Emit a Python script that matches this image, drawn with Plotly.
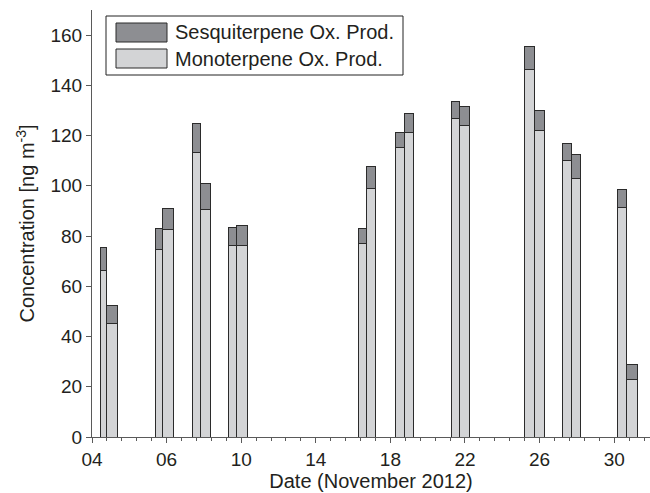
"""Concentrations des produits d'oxydation, barres empilees par echantillon."""
import plotly.graph_objects as go

# echantillons : debut / fin (jours depuis le debut de l'axe)
sample_start = [0.54, 0.96, 4.25, 4.74, 6.71, 7.25, 9.13, 9.66, 17.85, 18.43,
                20.31, 20.93, 24.11, 24.65, 29.01, 29.65, 31.52, 32.13, 35.21, 35.84]
sample_end = [0.96, 1.74, 4.74, 5.44, 7.25, 7.92, 9.66, 10.44, 18.43, 19.03,
              20.93, 21.54, 24.65, 25.28, 29.65, 30.34, 32.13, 32.72, 35.84, 36.55]

mono = [66.2, 45.2, 74.8, 82.5, 113.1, 90.7, 76.3, 76.3, 76.9, 98.8,
        115.2, 121.3, 126.8, 124.2, 146.2, 121.9, 110.0, 102.9, 91.2, 22.8]
sesqui = [9.2, 7.2, 8.2, 8.6, 11.9, 10.2, 7.2, 8.1, 6.2, 8.8,
          6.2, 7.3, 6.8, 7.3, 9.4, 8.1, 6.7, 9.6, 7.2, 6.2]

date_labels = ["04", "06", "10", "14", "18", "22", "26", "30"]
date_pos = [0, 5, 10, 15, 20, 25, 30, 35]

LIGHT = "#d3d4d6"
DARK = "#8d8e92"
EDGE = "#2b2b2b"
AXIS = "#5a5a5a"
FONT = "Liberation Sans, Arial, sans-serif"

# zone de trace en pixels
L, R, T, B = 92, 650, 10, 437

centers = [(s + e) / 2 for s, e in zip(sample_start, sample_end)]
widths = [e - s for s, e in zip(sample_start, sample_end)]

fig = go.Figure()
fig.add_trace(go.Bar(
    x=centers, y=mono, width=widths, name="Monoterpene Ox. Prod.",
    marker=dict(color=LIGHT, line=dict(color=EDGE, width=1)),
))
fig.add_trace(go.Bar(
    x=centers, y=sesqui, width=widths, name="Sesquiterpene Ox. Prod.",
    marker=dict(color=DARK, line=dict(color=EDGE, width=1)),
))

fig.update_layout(
    width=650, height=493,
    margin=dict(l=L, r=650 - R, t=T, b=493 - B, autoexpand=False),
    barmode="stack",
    plot_bgcolor="white", paper_bgcolor="white",
    showlegend=False,
    font=dict(family=FONT, size=19, color="#231f20"),
    xaxis=dict(
        range=[0, 37.4], tickmode="array", tickvals=date_pos, ticktext=date_labels,
        ticks="outside", ticklen=5, tickcolor=AXIS,
        minor=dict(dtick=1, tick0=0, ticks="outside", ticklen=3, tickcolor=AXIS),
        showgrid=False, zeroline=False,
        showline=True, linecolor=AXIS, linewidth=1,
        title=dict(text="Date (November 2012)", standoff=0, font=dict(size=20)),
    ),
    yaxis=dict(
        range=[0, 170], tickmode="linear", tick0=0, dtick=20,
        ticks="outside", ticklen=5, tickcolor=AXIS,
        showgrid=False, zeroline=False,
        showline=True, linecolor=AXIS, linewidth=1,
        title=dict(text="Concentration [ng m<sup>-3</sup>]", standoff=10,
                   font=dict(size=20)),
    ),
)


# legende dessinee a la main (grands echantillons de couleur)
def px_x(p):
    return (p - L) / (R - L)


def px_y(p):
    return (B - p) / (B - T)


fig.add_shape(type="rect", xref="paper", yref="paper",
              x0=px_x(106), x1=px_x(403), y0=px_y(75), y1=px_y(16),
              line=dict(color="#222222", width=1), fillcolor="white")
for (top, bot, col, label) in [(23, 42, DARK, "Sesquiterpene Ox. Prod."),
                               (49, 68, LIGHT, "Monoterpene Ox. Prod.")]:
    fig.add_shape(type="rect", xref="paper", yref="paper",
                  x0=px_x(116), x1=px_x(167), y0=px_y(bot), y1=px_y(top),
                  line=dict(color=EDGE, width=1), fillcolor=col)
    fig.add_annotation(x=px_x(173), y=px_y((top + bot) / 2), xref="paper", yref="paper",
                       text=label, showarrow=False, xanchor="left", yanchor="middle",
                       font=dict(size=20))

fig.write_html("out.html", config={"displayModeBar": False},
               post_script="document.body.style.margin='0';")
